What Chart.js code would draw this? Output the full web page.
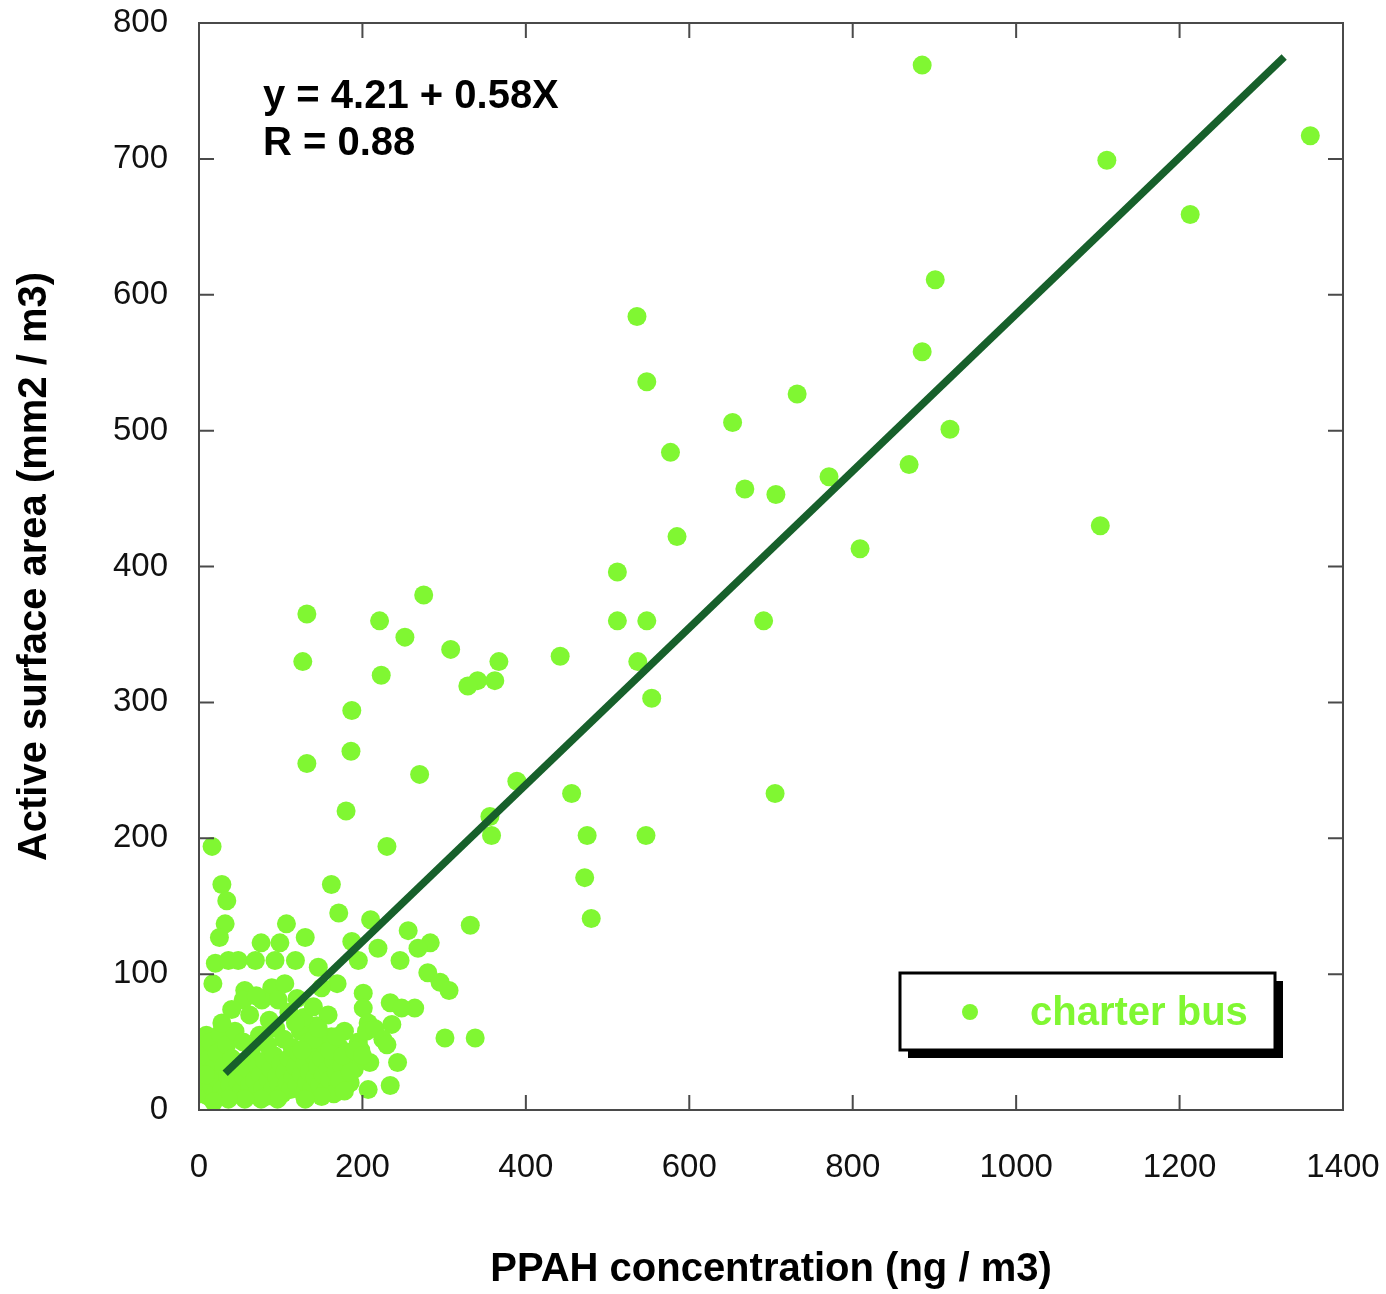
<!DOCTYPE html>
<html>
<head>
<meta charset="utf-8">
<script src="https://cdn.jsdelivr.net/npm/chart.js@4/dist/chart.umd.min.js"></script>
<style>
    body { margin: 0; background: #fff; }
    canvas { display: block; }
</style>
</head>
<body>
<canvas id="popChart" width="1386" height="1294"></canvas>
<script>
// scatter values: PPAH (ng/m3) vs active surface area (mm2/m3)
let ppah = [
    885, 1360, 1111, 1213, 901, 536, 885, 548, 732, 653, 919, 577, 869, 771, 668, 706, 1103, 585, 809, 512,
    275, 132, 221, 512, 548, 691, 252, 308, 442, 127, 537, 367, 223, 341, 362, 329, 554, 187, 132, 186,
    270, 389, 456, 705, 180, 356, 358, 475, 547, 16, 230, 472, 480, 162, 28, 34, 171, 210, 32, 25,
    107, 130, 256, 283, 268, 332, 76, 99, 187, 219, 195, 246, 280, 295, 306, 20, 36, 48, 69, 93,
    118, 146, 17, 56, 89, 105, 54, 77, 97, 169, 201, 201, 234, 264, 248, 207, 236, 301, 338, 209,
    243, 207, 234,
    3, 4, 5, 6, 8, 9, 10, 12, 12, 14, 15, 17, 20, 22, 24, 26, 28, 30, 32, 34,
    35, 38, 40, 42, 44, 45, 48, 50, 52, 54, 55, 58, 60, 62, 64, 66, 68, 70, 72, 74,
    75, 78, 80, 82, 84, 85, 88, 90, 92, 94, 95, 98, 100, 102, 104, 105, 108, 110, 112, 114,
    115, 118, 120, 122, 124, 125, 128, 130, 132, 134, 135, 138, 140, 142, 144, 145, 148, 150, 152, 154,
    155, 158, 160, 162, 165, 168, 170, 172, 175, 178, 180, 182, 185, 188, 190, 195, 198, 205, 215, 225,
    230, 62, 70, 86, 110, 120, 128, 140, 150, 158, 118, 40, 28,
    165, 172, 178, 185, 160, 150, 140, 130, 96, 76, 56, 36, 18, 8, 176, 168, 190, 200, 146, 126
]
let area = [
    769, 717, 699, 659, 611, 584, 558, 536, 527, 506, 501, 484, 475, 466, 457, 453, 430, 422, 413, 396,
    379, 365, 360, 360, 360, 360, 348, 339, 334, 330, 330, 330, 320, 316, 316, 312, 303, 294, 255, 264,
    247, 242, 233, 233, 220, 216, 202, 202, 202, 194, 194, 171, 141, 166, 166, 154, 145, 140, 137, 127,
    137, 127, 132, 123, 119, 136, 123, 123, 124, 119, 110, 110, 101, 94, 88, 108, 110, 110, 110, 110,
    110, 105, 93, 88, 90, 93, 81, 81, 81, 93, 86, 75, 79, 75, 75, 64, 63, 53, 53, 35,
    35, 15, 18,
    12, 22, 32, 45, 15, 55, 26, 10, 38, 50, 18, 30, 12, 42, 22, 56, 15, 32, 10, 48,
    25, 18, 38, 12, 58, 28, 20, 35, 14, 50, 24, 10, 30, 18, 44, 38, 22, 12, 32, 55,
    26, 16, 36, 10, 48, 22, 30, 15, 40, 60, 25, 18, 34, 12, 52, 28, 20, 38, 15, 46,
    24, 32, 18, 42, 58, 26, 12, 35, 20, 50, 28, 15, 40, 24, 62, 32, 18, 38, 26, 48,
    14, 30, 22, 54, 36, 28, 18, 46, 32, 58, 24, 40, 20, 34, 30, 50, 44, 58, 60, 52,
    48, 70, 84, 66, 72, 82, 68, 76, 90, 70, 64, 74, 64,
    12, 22, 14, 28, 44, 10, 52, 8, 8, 8, 8, 8, 6, 26, 40, 54, 44, 40, 60, 44
]

// fitted line ends as drawn in the picture
let fitX = [32, 1328]
let fitY = [27, 775]

let xTicks = [0, 200, 400, 600, 800, 1000, 1200, 1400]
let yTicks = [0, 100, 200, 300, 400, 500, 600, 700, 800]

let seriesName = 'charter bus'
let fitText = ['y = 4.21 + 0.58X', 'R = 0.88']

let pointColor = '#80f732'
let lineColor = '#17602b'
let fontName = '"Liberation Sans", Arial, sans-serif'

let scatterData = []
for (let i in ppah) {
    scatterData.push({x: ppah[i], y: area[i]})
}
let fitData = []
for (let i in fitX) {
    fitData.push({x: fitX[i], y: fitY[i]})
}

// frame, inward ticks on all four sides, equation text and the boxed legend
const decorations = {
    id: 'decorations',
    afterDraw(chart) {
        let ctx = chart.ctx
        let a = chart.chartArea
        let xs = chart.scales.x
        let ys = chart.scales.y
        ctx.save()
        ctx.strokeStyle = '#4a4a4a'
        ctx.lineWidth = 2
        ctx.strokeRect(a.left, a.top, a.right - a.left, a.bottom - a.top)
        ctx.beginPath()
        for (let v of xTicks) {
            let px = xs.getPixelForValue(v)
            ctx.moveTo(px, a.bottom); ctx.lineTo(px, a.bottom - 15)
            ctx.moveTo(px, a.top); ctx.lineTo(px, a.top + 15)
        }
        for (let v of yTicks) {
            let py = ys.getPixelForValue(v)
            ctx.moveTo(a.left, py); ctx.lineTo(a.left + 15, py)
            ctx.moveTo(a.right, py); ctx.lineTo(a.right - 15, py)
        }
        ctx.stroke()

        ctx.fillStyle = '#000'
        ctx.font = 'bold 40px ' + fontName
        ctx.textBaseline = 'alphabetic'
        ctx.textAlign = 'left'
        ctx.fillText(fitText[0], a.left + 64, 108)
        ctx.fillText(fitText[1], a.left + 64, 155)

        // legend box with drop shadow
        let bx = 900, by = 973, bw = 375, bh = 77
        ctx.fillStyle = '#000'
        ctx.fillRect(bx + 8, by + 8, bw, bh)
        ctx.fillStyle = '#fff'
        ctx.fillRect(bx, by, bw, bh)
        ctx.lineWidth = 3
        ctx.strokeStyle = '#000'
        ctx.strokeRect(bx, by, bw, bh)
        ctx.fillStyle = pointColor
        ctx.beginPath()
        ctx.arc(bx + 70, by + 39, 8, 0, Math.PI * 2)
        ctx.fill()
        ctx.font = 'bold 40px ' + fontName
        ctx.textBaseline = 'middle'
        ctx.fillText(seriesName, bx + 130, by + 41)
        ctx.restore()
    }
}

const config = {
    type: 'scatter',
    data: {
        datasets: [
            {
                type: 'line',
                label: 'fit',
                data: fitData,
                borderColor: lineColor,
                borderWidth: 7.5,
                pointRadius: 0,
                fill: false,
                order: 0
            },
            {
                label: seriesName,
                data: scatterData,
                backgroundColor: pointColor,
                borderWidth: 0,
                pointRadius: 9.5,
                order: 1
            }
        ]
    },
    options: {
        responsive: false,
        animation: false,
        layout: {
            padding: {left: 0, right: 43, top: 23, bottom: 0}
        },
        plugins: {
            legend: {display: false},
            tooltip: {enabled: false}
        },
        scales: {
            x: {
                type: 'linear',
                min: 0,
                max: 1400,
                afterBuildTicks: (scale) => { scale.ticks = xTicks.map(v => ({value: v})) },
                afterFit: (scale) => {
                    scale.height = 184
                    scale.paddingLeft = 0
                    scale.paddingRight = 0
                },
                grid: {display: false, drawTicks: false},
                border: {display: false},
                ticks: {
                    color: '#111',
                    font: {family: fontName, size: 33},
                    padding: 38,
                    maxRotation: 0,
                    callback: (v) => String(v)
                },
                title: {
                    display: true,
                    text: 'PPAH concentration (ng / m3)',
                    color: '#000',
                    font: {family: fontName, size: 40, weight: 'bold'},
                    padding: {top: 0, bottom: 0}
                }
            },
            y: {
                type: 'linear',
                min: 0,
                max: 800,
                afterBuildTicks: (scale) => { scale.ticks = yTicks.map(v => ({value: v})) },
                afterFit: (scale) => {
                    scale.width = 199
                    scale.paddingTop = 0
                    scale.paddingBottom = 0
                },
                grid: {display: false, drawTicks: false},
                border: {display: false},
                ticks: {
                    color: '#111',
                    font: {family: fontName, size: 33},
                    padding: 31,
                    callback: (v) => String(v)
                },
                title: {
                    display: true,
                    text: 'Active surface area (mm2 / m3)',
                    color: '#000',
                    font: {family: fontName, size: 40, weight: 'bold'},
                    padding: {top: 11, bottom: 0}
                }
            }
        }
    },
    plugins: [decorations]
}

let barChart = new Chart(document.getElementById('popChart').getContext('2d'), config)
</script>
</body>
</html>
